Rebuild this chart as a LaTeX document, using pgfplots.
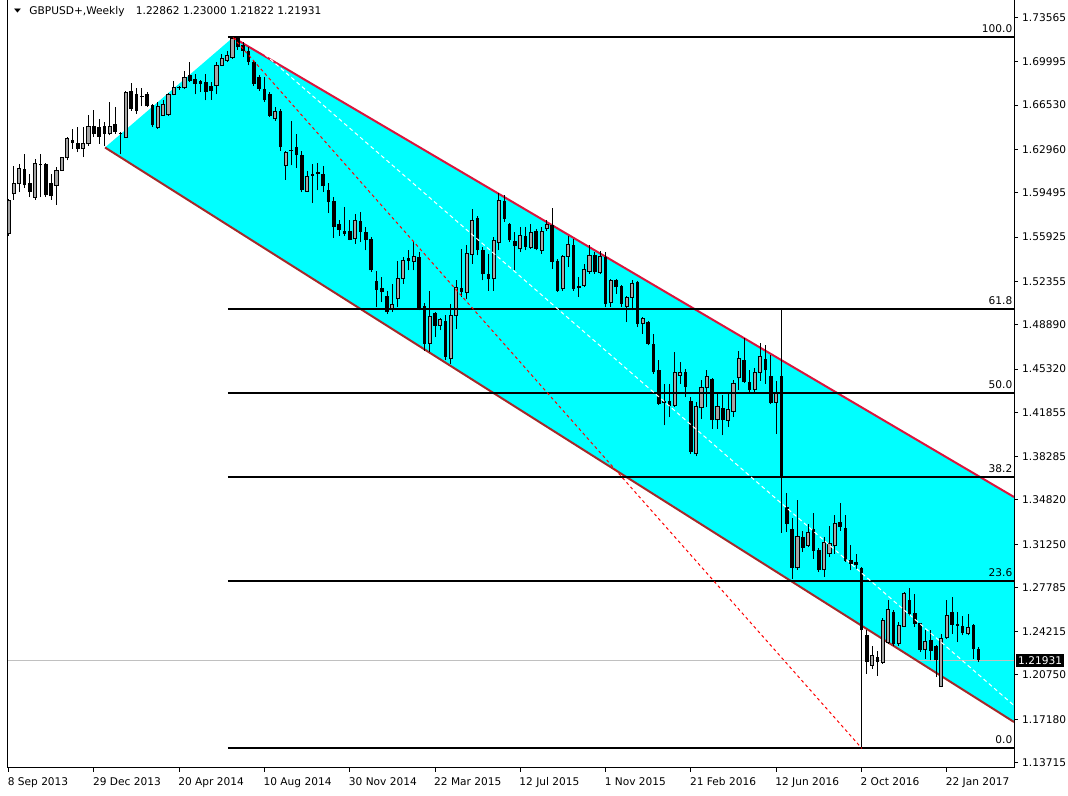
\documentclass[border=0pt]{standalone}
\usepackage{fontspec}
\setmainfont{DejaVu Sans}
\usepackage{graphicx}
\usepackage{pgfplots}
\usepackage{pgfplotstable}
\pgfplotsset{compat=1.18}
\definecolor{chancyan}{RGB}{0,255,255}
\definecolor{upred}{RGB}{220,20,60}
\definecolor{lowred}{RGB}{165,42,42}
\definecolor{bullgray}{RGB}{165,165,165}
\definecolor{pricegray}{RGB}{192,192,192}
\newcommand{\tf}{\fontsize{10.6}{12}\selectfont}

\pgfplotstableread{
w o h l c
0 1.5619 1.5900 1.5605 1.5886
1 1.5940 1.6162 1.5892 1.6020
2 1.6020 1.6181 1.5953 1.6146
3 1.6141 1.6256 1.5988 1.6007
4 1.6026 1.6101 1.5913 1.5953
5 1.5913 1.6221 1.5892 1.6181
6 1.6181 1.6261 1.5913 1.6168
7 1.6181 1.6185 1.5913 1.5927
8 1.6026 1.6101 1.5892 1.5919
9 1.6007 1.6154 1.5854 1.6127
10 1.6127 1.6235 1.6122 1.6229
11 1.6229 1.6395 1.6208 1.6382
12 1.6374 1.6462 1.6301 1.6347
13 1.6347 1.6476 1.6275 1.6301
14 1.6301 1.6476 1.6235 1.6347
15 1.6342 1.6577 1.6328 1.6481
16 1.6481 1.6615 1.6395 1.6417
17 1.6476 1.6543 1.6342 1.6395
18 1.6481 1.6516 1.6328 1.6422
19 1.6422 1.6676 1.6409 1.6481
20 1.6502 1.6636 1.6422 1.6435
21 1.6427 1.6435 1.6256 1.6417
22 1.6395 1.6770 1.6390 1.6757
23 1.6770 1.6829 1.6609 1.6623
24 1.6738 1.6792 1.6583 1.6609
25 1.6722 1.6792 1.6642 1.6716
26 1.6738 1.6757 1.6636 1.6642
27 1.6650 1.6663 1.6476 1.6489
28 1.6476 1.6676 1.6462 1.6642
29 1.6569 1.6690 1.6565 1.6658
30 1.6577 1.6749 1.6569 1.6738
31 1.6738 1.6845 1.6730 1.6792
32 1.6802 1.6810 1.6775 1.6792
33 1.6792 1.6925 1.6784 1.6877
34 1.6891 1.6998 1.6837 1.6845
35 1.6864 1.6904 1.6738 1.6824
36 1.6850 1.6856 1.6757 1.6824
37 1.6837 1.6899 1.6690 1.6757
38 1.6810 1.6837 1.6695 1.6765
39 1.6810 1.6998 1.6738 1.6971
40 1.6971 1.7065 1.6963 1.7025
41 1.7011 1.7091 1.6998 1.7051
42 1.7038 1.7200 1.7025 1.7185
43 1.7190 1.7200 1.7097 1.7118
44 1.7132 1.7158 1.7038 1.7091
45 1.7091 1.7118 1.6971 1.6998
46 1.6998 1.7011 1.6810 1.6824
47 1.6877 1.6891 1.6770 1.6784
48 1.6784 1.6877 1.6676 1.6690
49 1.6743 1.6757 1.6561 1.6569
50 1.6543 1.6636 1.6529 1.6604
51 1.6604 1.6623 1.6288 1.6315
52 1.6168 1.6288 1.6052 1.6275
53 1.6296 1.6524 1.6168 1.6283
54 1.6315 1.6417 1.6149 1.6248
55 1.6248 1.6288 1.5953 1.5967
56 1.5961 1.6122 1.5953 1.6079
57 1.6101 1.6181 1.5865 1.6087
58 1.6114 1.6186 1.5967 1.6101
59 1.6101 1.6160 1.5953 1.5999
60 1.5972 1.6026 1.5785 1.5873
61 1.5886 1.5913 1.5586 1.5672
62 1.5694 1.5731 1.5605 1.5651
63 1.5645 1.5833 1.5605 1.5619
64 1.5645 1.5726 1.5565 1.5570
65 1.5578 1.5779 1.5538 1.5726
66 1.5720 1.5793 1.5552 1.5632
67 1.5632 1.5672 1.5485 1.5565
68 1.5578 1.5592 1.5310 1.5324
69 1.5238 1.5319 1.5029 1.5169
70 1.5185 1.5270 1.5070 1.5150
71 1.5123 1.5163 1.4976 1.4989
72 1.5016 1.5217 1.4989 1.5051
73 1.5096 1.5404 1.5029 1.5257
74 1.5257 1.5431 1.5217 1.5404
75 1.5423 1.5485 1.5324 1.5404
76 1.5399 1.5552 1.5324 1.5436
77 1.5431 1.5471 1.5003 1.5016
78 1.5035 1.5061 1.4681 1.4735
79 1.4740 1.5163 1.4668 1.4954
80 1.4981 1.4989 1.4788 1.4882
81 1.4882 1.4944 1.4842 1.4928
82 1.4922 1.4963 1.4601 1.4628
83 1.4614 1.5056 1.4574 1.4963
84 1.4963 1.5244 1.4855 1.5190
85 1.5182 1.5498 1.5110 1.5150
86 1.5150 1.5525 1.5096 1.5463
87 1.5453 1.5819 1.5378 1.5726
88 1.5747 1.5760 1.5445 1.5485
89 1.5485 1.5512 1.5244 1.5292
90 1.5297 1.5453 1.5163 1.5257
91 1.5257 1.5592 1.5163 1.5565
92 1.5552 1.5945 1.5485 1.5886
93 1.5886 1.5927 1.5712 1.5739
94 1.5699 1.5704 1.5552 1.5565
95 1.5557 1.5632 1.5324 1.5517
96 1.5498 1.5672 1.5471 1.5605
97 1.5605 1.5672 1.5485 1.5512
98 1.5512 1.5699 1.5498 1.5627
99 1.5645 1.5659 1.5485 1.5498
100 1.5485 1.5672 1.5458 1.5640
101 1.5659 1.5726 1.5645 1.5694
102 1.5686 1.5828 1.5337 1.5391
103 1.5404 1.5418 1.5155 1.5163
104 1.5177 1.5445 1.5163 1.5437
105 1.5437 1.5605 1.5351 1.5533
106 1.5525 1.5579 1.5163 1.5177
107 1.5196 1.5270 1.5110 1.5185
108 1.5204 1.5378 1.5190 1.5329
109 1.5319 1.5525 1.5297 1.5445
110 1.5445 1.5471 1.5297 1.5311
111 1.5311 1.5479 1.5297 1.5437
112 1.5431 1.5471 1.5029 1.5056
113 1.5070 1.5257 1.5029 1.5244
114 1.5244 1.5257 1.5137 1.5190
115 1.5196 1.5204 1.5029 1.5056
116 1.5035 1.5123 1.4909 1.5110
117 1.5110 1.5244 1.5003 1.5222
118 1.5230 1.5240 1.4869 1.4896
119 1.4901 1.4949 1.4815 1.4936
120 1.4909 1.4922 1.4722 1.4735
121 1.4735 1.4815 1.4494 1.4507
122 1.4526 1.4601 1.4245 1.4253
123 1.4274 1.4414 1.4079 1.4258
124 1.4274 1.4414 1.4146 1.4232
125 1.4240 1.4668 1.4226 1.4507
126 1.4481 1.4588 1.4414 1.4507
127 1.4507 1.4534 1.4307 1.4392
128 1.4274 1.4307 1.3851 1.3865
129 1.3851 1.4266 1.3830 1.4232
130 1.4221 1.4446 1.4132 1.4381
131 1.4381 1.4521 1.4226 1.4473
132 1.4454 1.4462 1.4052 1.4119
133 1.4124 1.4333 1.4052 1.4232
134 1.4221 1.4320 1.3999 1.4119
135 1.4119 1.4347 1.4065 1.4205
136 1.4194 1.4446 1.4146 1.4414
137 1.4462 1.4676 1.4360 1.4614
138 1.4601 1.4783 1.4420 1.4427
139 1.4427 1.4521 1.4347 1.4360
140 1.4365 1.4542 1.4333 1.4507
141 1.4507 1.4740 1.4440 1.4633
142 1.4614 1.4722 1.4414 1.4521
143 1.4473 1.4649 1.4250 1.4258
144 1.4266 1.4440 1.4012 1.4347
145 1.4473 1.5017 1.3219 1.3661
146 1.3428 1.3540 1.3222 1.3290
147 1.3249 1.3337 1.2847 1.2935
148 1.2935 1.3482 1.2920 1.3187
149 1.3187 1.3235 1.3061 1.3096
150 1.3115 1.3289 1.3101 1.3222
151 1.3249 1.3374 1.3008 1.3069
152 1.3075 1.3096 1.2901 1.2914
153 1.2919 1.3182 1.2860 1.3142
154 1.3048 1.3275 1.3021 1.3134
155 1.3115 1.3356 1.3048 1.3294
156 1.3302 1.3455 1.3235 1.3262
157 1.3257 1.3356 1.2985 1.2994
158 1.3000 1.3115 1.2914 1.2967
159 1.2981 1.3048 1.2927 1.2962
160 1.2930 1.2945 1.1484 1.2432
161 1.2392 1.2432 1.2084 1.2177
162 1.2151 1.2311 1.2124 1.2231
163 1.2218 1.2271 1.2070 1.2177
164 1.2177 1.2534 1.2164 1.2512
165 1.2338 1.2673 1.2325 1.2598
166 1.2579 1.2593 1.2311 1.2325
167 1.2325 1.2499 1.2311 1.2472
168 1.2464 1.2740 1.2459 1.2726
169 1.2678 1.2775 1.2552 1.2566
170 1.2571 1.2726 1.2459 1.2485
171 1.2491 1.2495 1.2258 1.2277
172 1.2277 1.2432 1.2204 1.2346
173 1.2352 1.2432 1.2191 1.2271
174 1.2311 1.2315 1.2057 1.2191
175 1.1982 1.2405 1.1977 1.2365
176 1.2373 1.2673 1.2365 1.2552
177 1.2579 1.2700 1.2405 1.2480
178 1.2485 1.2579 1.2338 1.2472
179 1.2472 1.2552 1.2392 1.2410
180 1.2405 1.2566 1.2392 1.2453
181 1.2480 1.2485 1.2204 1.2285
182 1.22862 1.23000 1.21822 1.21931
}\candles

\begin{document}
\begin{tikzpicture}
\path (-8pt,-28pt) rectangle (1060pt,767pt);
\begin{axis}[
  at={(0pt,0pt)}, anchor=south west,
  scale only axis, width=1006pt, height=767pt,
  xmin=-0.1126, xmax=188.63, ymin=1.13313, ymax=1.74931,
  clip mode=individual,
  axis line style={draw=none},
  xtick={0,16,32,48,64,80,96,112,128,144,160,176},
  xticklabels={8 Sep 2013,29 Dec 2013,20 Apr 2014,10 Aug 2014,30 Nov 2014,22 Mar 2015,12 Jul 2015,1 Nov 2015,21 Feb 2016,12 Jun 2016,2 Oct 2016,22 Jan 2017},
  ytick={1.73565,1.69995,1.66530,1.62960,1.59495,1.55925,1.52355,1.48890,1.45320,1.41855,1.38285,1.34820,1.31250,1.27785,1.24215,1.20750,1.17180,1.13715},
  yticklabels={1.73565,1.69995,1.66530,1.62960,1.59495,1.55925,1.52355,1.48890,1.45320,1.41855,1.38285,1.34820,1.31250,1.27785,1.24215,1.20750,1.17180,1.13715},
  xtick pos=bottom, ytick pos=right,
  yticklabel pos=right,
  tick align=outside,
  major tick length=4pt,
  tick style={black, line width=1pt},
  xticklabel style={anchor=north west, inner sep=0pt, xshift=-1pt, yshift=-6pt},
  yticklabel style={anchor=west, inner sep=0pt, xshift=4pt},
  every tick label/.append style={font=\tf},
  candle/.style={draw=none, mark=none, error bars/.cd, y dir=plus, y explicit, error mark=none},
]
% channel fill
\addplot[fill=chancyan, draw=none] coordinates {(18.09,1.63122) (42.10,1.7196) (188.63,1.35044) (188.63,1.16968)} -- cycle;
% current price line
\addplot[pricegray, line width=1pt] coordinates {(-0.1126,1.21931) (188.63,1.21931)};
% channel borders
\addplot[upred, line width=2pt] coordinates {(42.10,1.7196) (188.63,1.35044)};
\addplot[lowred, line width=2pt] coordinates {(18.09,1.63122) (188.63,1.16968)};
% wicks
\addplot[candle, error bar style={draw=black, line width=1pt}]
  table[x=w, y=l, y error expr=\thisrow{h}-\thisrow{l}] {\candles};
% bearish bodies
\addplot[restrict expr to domain={\thisrow{c}-\thisrow{o}}{-1:-0.00001}, candle,
  error bar style={draw=black, line width=3.6pt}]
  table[x=w, y=c, y error expr=\thisrow{o}-\thisrow{c}] {\candles};
% bullish bodies: outline then fill
\addplot[restrict expr to domain={\thisrow{c}-\thisrow{o}}{0:1}, candle,
  error bar style={draw=black, line width=4.2pt}]
  table[x=w, y expr=\thisrow{o}-0.0004, y error expr=\thisrow{c}-\thisrow{o}+0.0008] {\candles};
\addplot[restrict expr to domain={\thisrow{c}-\thisrow{o}}{0.0008:1}, candle,
  error bar style={draw=bullgray, line width=2.2pt}]
  table[x=w, y expr=\thisrow{o}+0.0004, y error expr=\thisrow{c}-\thisrow{o}-0.0008] {\candles};
% fibonacci levels
\addplot[black, line width=2pt] coordinates {(41.16,1.7200) (188.63,1.7200)};
\addplot[black, line width=2pt] coordinates {(41.16,1.50165) (188.63,1.50165)};
\addplot[black, line width=2pt] coordinates {(41.16,1.4342) (188.63,1.4342)};
\addplot[black, line width=2pt] coordinates {(41.16,1.36675) (188.63,1.36675)};
\addplot[black, line width=2pt] coordinates {(41.16,1.2833) (188.63,1.2833)};
\addplot[black, line width=2pt] coordinates {(41.16,1.1484) (188.63,1.1484)};
% dashed lines
\addplot[red, line width=1pt, dash pattern=on 3pt off 3pt] coordinates {(42.10,1.7196) (160.1,1.1484)};
\addplot[white, line width=1pt, dash pattern=on 4pt off 3pt] coordinates {(48.1,1.7059) (188.63,1.18294)};
% fib labels
\foreach \lv/\tx in {1.7200/100.0, 1.50165/61.8, 1.4342/50.0, 1.36675/38.2, 1.2833/23.6, 1.1484/0.0}{
  \edef\temp{\noexpand\node[anchor=base east, inner sep=0pt, font=\noexpand\tf, xshift=-1.5pt, yshift=4.5pt] at (axis cs:188.63,\lv) {\tx};}
  \temp
}
% frame
\draw[black, line width=1pt] (rel axis cs:0,1) -- (rel axis cs:0,0) -- (rel axis cs:1,0) -- (rel axis cs:1,1);
% current price box
\node[anchor=west, fill=black, text=white, inner xsep=2pt, inner ysep=2.5pt, font=\tf, xshift=2pt] at (axis cs:188.63,1.21931) {1.21931};
% title
\node[anchor=base west, inner sep=0pt] at (axis cs:1.0,1.7395) {\scalebox{1}[0.6]{\fontsize{9}{9}\selectfont ▼}};
\node[anchor=base west, inner sep=0pt, font=\tf] at (axis cs:3.88,1.73766) {GBPUSD+,Weekly\hspace{8pt} 1.22862 1.23000 1.21822 1.21931};
\end{axis}
\end{tikzpicture}
\end{document}
